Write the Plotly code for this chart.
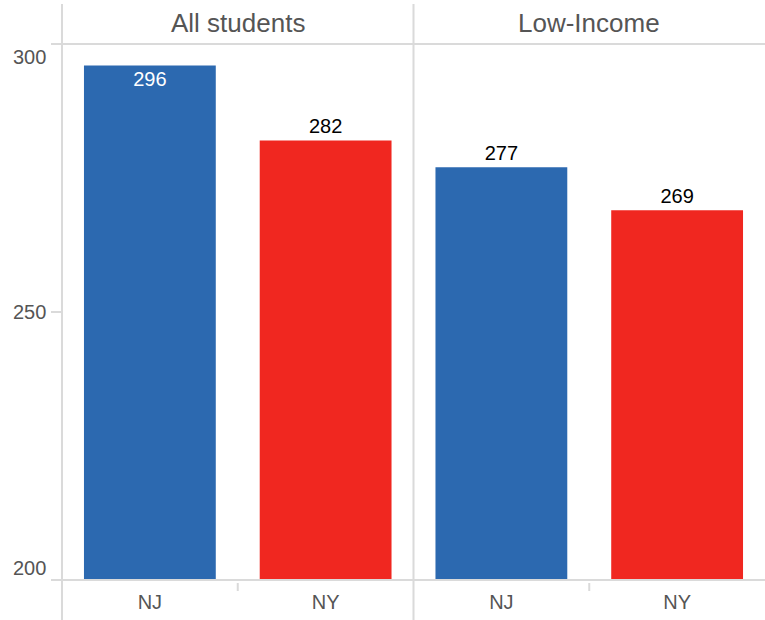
import plotly.graph_objects as go

# ---- data ----
groups = ["All students", "Low-Income"]
states = ["NJ", "NY"]
all_students = [296, 282]
low_income = [277, 269]
y_ticks = [200, 250, 300]
y_tick_labels = ["200", "250", "300"]

# ---- styles ----
state_colors = ["#2C69B0", "#F02720"]
grid_col = "#DADADA"
text_col = "#555555"
FONT = "Liberation Sans, Arial, sans-serif"
W, H = 765, 620
ML, MR, MT, MB = 62, 0, 44, 40

fig = go.Figure()
series = [all_students, low_income]
axes = [("x", "y"), ("x2", "y2")]
for vals, (xa, ya) in zip(series, axes):
    positions = ["inside" if v >= 290 else "outside" for v in vals]
    fig.add_trace(go.Bar(
        x=states, y=vals, xaxis=xa, yaxis=ya,
        marker=dict(color=state_colors, line=dict(width=0)),
        texttemplate="%{y}", textposition=positions,
        insidetextanchor="end",
        insidetextfont=dict(color="white", size=20, family=FONT),
        outsidetextfont=dict(color="black", size=20, family=FONT),
        cliponaxis=False, showlegend=False, hoverinfo="x+y",
    ))

xcommon = dict(type="category", showgrid=False, zeroline=False, showline=False,
               ticks="", ticklabelstandoff=8,
               tickfont=dict(size=20, color=text_col, family=FONT),
               fixedrange=True)
ycommon = dict(range=[200, 300], showgrid=False, zeroline=False, showline=False,
               tickvals=y_ticks, showticklabels=False, ticks="outside",
               ticklen=10, tickwidth=2, tickcolor=grid_col, fixedrange=True)

fig.update_layout(
    width=W, height=H,
    margin=dict(l=ML, r=MR, t=MT, b=MB, pad=0),
    paper_bgcolor="white", plot_bgcolor="white",
    bargap=0.25,
    font=dict(family=FONT, color=text_col),
    xaxis=dict(domain=[0, 0.5], anchor="y", **xcommon),
    xaxis2=dict(domain=[0.5, 1], anchor="y2", **xcommon),
    yaxis=dict(anchor="x", **ycommon),
    yaxis2=dict(anchor="x2", matches="y", **{**ycommon, "ticks": ""}),
)

# y tick labels (flush-style, as in the reference)
label_shift = {300: -13, 250: 0, 200: 12}
for v, t in zip(y_ticks, y_tick_labels):
    fig.add_annotation(x=0, xref="paper", y=v, yref="y", text=t, showarrow=False,
                       xanchor="right", yanchor="middle", xshift=-14,
                       yshift=label_shift[v],
                       font=dict(size=20, color=text_col, family=FONT))

# facet headers
for g, cx in zip(groups, [0.25, 0.75]):
    fig.add_annotation(x=cx, xref="paper", y=1, yref="paper", text=g,
                       showarrow=False, xanchor="center", yanchor="middle",
                       yshift=21, font=dict(size=26, color=text_col, family=FONT))

plot_h = H - MT - MB
ext_top = 40 / plot_h
ext_bot = 40 / plot_h
line = dict(color=grid_col, width=2)
shapes = [
    dict(type="line", xref="paper", yref="paper", x0=0, x1=1, y0=1, y1=1, line=line),
    dict(type="line", xref="paper", yref="paper", x0=0, x1=1, y0=0, y1=0, line=line),
    dict(type="line", xref="paper", yref="paper", x0=0, x1=0, y0=-ext_bot, y1=1 + ext_top, line=line),
    dict(type="line", xref="paper", yref="paper", x0=0.5, x1=0.5, y0=-ext_bot, y1=1 + ext_top, line=line),
]
for xr in ["x", "x2"]:
    shapes.append(dict(type="line", xref=xr, yref="paper", x0=0.5, x1=0.5,
                       y0=-3 / plot_h, y1=-11 / plot_h, line=line))
fig.update_layout(shapes=shapes)

fig.write_html(
    "out.html",
    config={"displayModeBar": False},
    post_script="document.body.style.margin='0';document.body.style.overflow='hidden';",
)
